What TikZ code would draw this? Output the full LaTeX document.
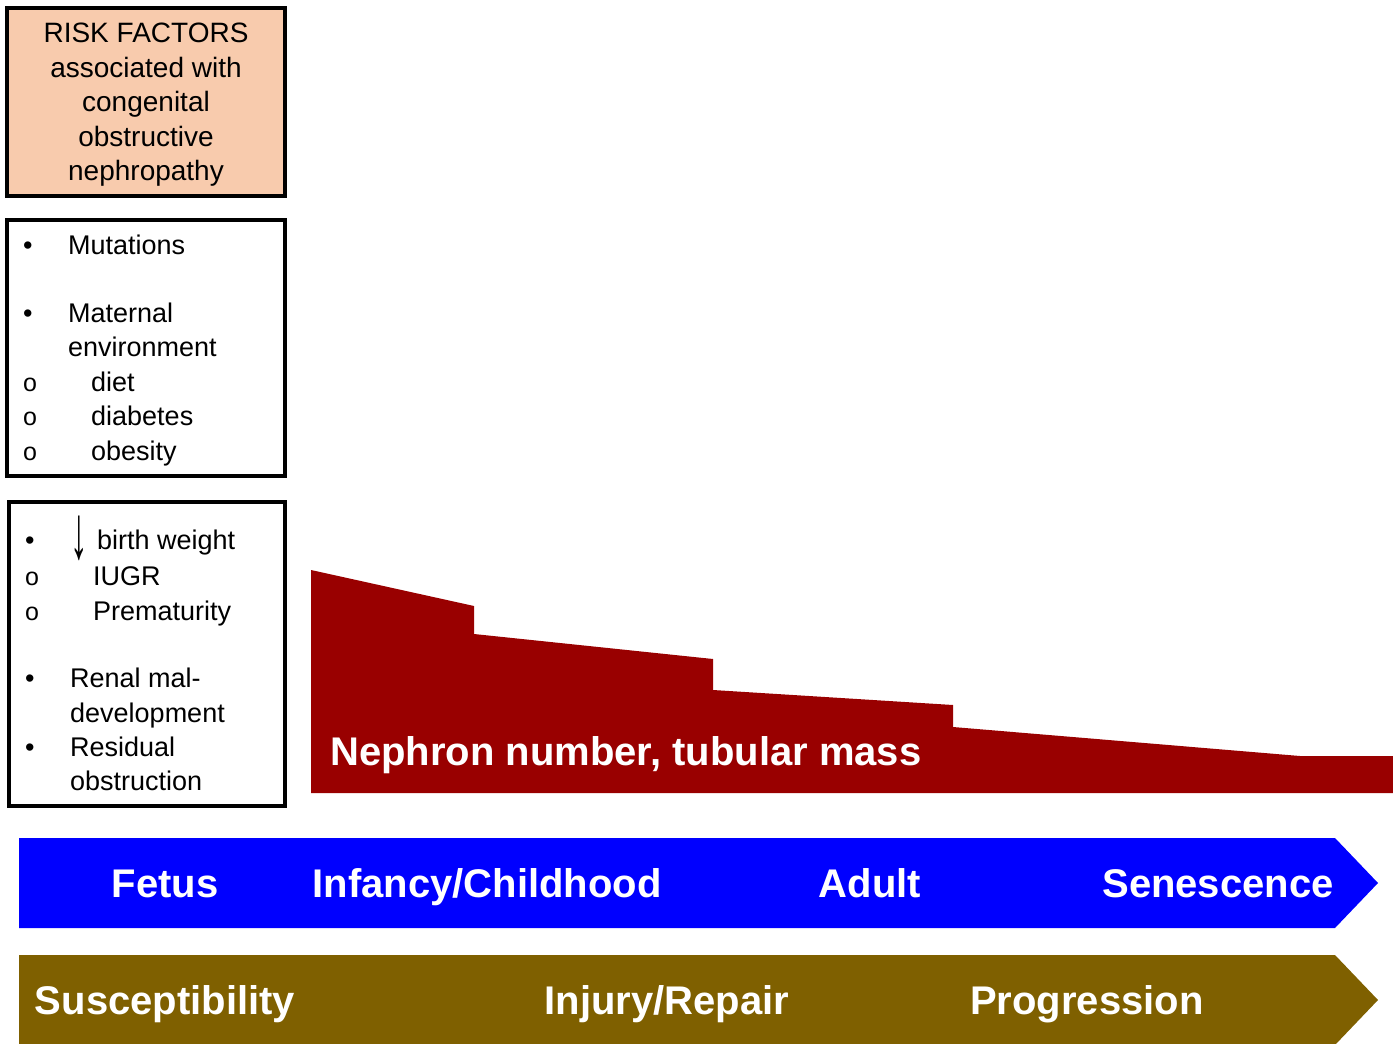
\documentclass[tikz,border=0pt]{standalone}
\usepackage{fontspec}
\setmainfont{Liberation Sans}
\usepackage{xcolor}
\definecolor{peach}{RGB}{248,203,173}
\definecolor{nephred}{RGB}{153,0,0}
\definecolor{ageblue}{RGB}{0,0,255}
\definecolor{stagebrown}{RGB}{127,96,0}
\newcommand{\bul}{\makebox[45pt][l]{\textbullet}}
\newcommand{\nob}{\makebox[45pt][l]{}}
\newcommand{\sbul}{\makebox[68pt][l]{\fontsize{25}{25}\selectfont o}}
\newcommand{\darr}{\makebox[27pt][l]{\raisebox{-9pt}{\scalebox{1.3}[2.8]{↓}}}}

\begin{document}
\begin{tikzpicture}[x=1pt,y=-1pt,
    box/.style={draw=black,line width=4pt},
    item/.style={anchor=mid west,inner sep=0pt,font=\fontsize{27}{34.5}\selectfont},
    band/.style={anchor=base,inner sep=0pt,text=white,font=\fontsize{40}{48}\selectfont\bfseries}]
    \useasboundingbox (0,0) rectangle (1393,1044);
    \draw[box,fill=peach] (7,8) rectangle (285,196);
    \node[align=center,inner sep=0pt,font=\fontsize{28}{34.5}\selectfont] (risk) at (146,105)
        {RISK FACTORS\\associated with\\congenital\\obstructive\\nephropathy};
    \draw[box] (7,220) rectangle (285,476);
    \node[item] (mutations) at (23,252) {\bul Mutations};
    \node[item] (maternal) at (23,320) {\bul Maternal};
    \node[item] (environment) at (23,354) {\nob environment};
    \node[item] (diet) at (23,389) {\sbul diet};
    \node[item] (diabetes) at (23,423) {\sbul diabetes};
    \node[item] (obesity) at (23,458) {\sbul obesity};
    \draw[box] (9,502) rectangle (285,806);
    \node[item] (birth) at (25,547) {\bul\darr birth weight};
    \node[item] (iugr) at (25,583) {\sbul IUGR};
    \node[item] (premature) at (25,618) {\sbul Prematurity};
    \node[item] (renal) at (25,685) {\bul Renal mal-};
    \node[item] (develop) at (25,720) {\nob development};
    \node[item] (residual) at (25,754) {\bul Residual};
    \node[item] (obstruct) at (25,788) {\nob obstruction};
    \fill[nephred] (311,570) -- (474,606) -- (474,634) -- (713,659) -- (713,690) -- (953,705)
        -- (953,727) -- (1300,756) -- (1393,756) -- (1393,793) -- (311,793) -- cycle;
    \node[band,anchor=base west] (nephron) at (330,765) {Nephron number, tubular mass};
    \fill[ageblue] (19,838) -- (1335,838) -- (1378,883) -- (1335,928) -- (19,928) -- cycle;
    \node[band] (fetus) at (165,897) {Fetus};
    \node[band] (infancy) at (487,897) {Infancy/Childhood};
    \node[band] (adult) at (870,897) {Adult};
    \node[band] (senescence) at (1218,897) {Senescence};
    \fill[stagebrown] (19,955) -- (1335,955) -- (1378,1000) -- (1335,1045) -- (19,1045) -- cycle;
    \node[band] (suscept) at (165,1014) {Susceptibility};
    \node[band] (injury) at (667,1014) {Injury/Repair};
    \node[band] (progress) at (1087,1014) {Progression};
\end{tikzpicture}
\end{document}
